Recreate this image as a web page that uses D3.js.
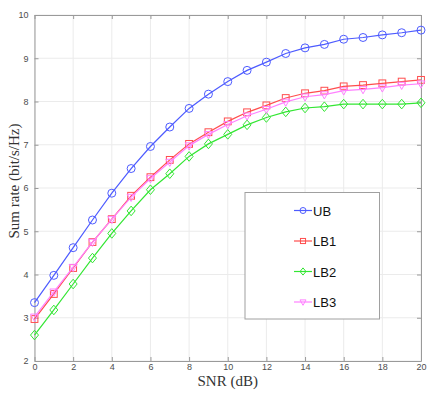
<!DOCTYPE html>
<html lang="en">
<head>
<meta charset="UTF-8">
<title>Sum rate vs SNR</title>
<script src="https://d3js.org/d3.v7.min.js"></script>
<style>
    body { margin: 0; background: #fff; }
    .tick text { font-family: "Liberation Sans", Arial, sans-serif; font-size: 9px; fill: #4d4d4d; }
    .axis-label { font-family: "Liberation Serif", "DejaVu Serif", serif; font-size: 15px; fill: #333; text-anchor: middle; }
    .legend-text { font-family: "Liberation Sans", Arial, sans-serif; font-size: 13px; fill: #111; }
</style>
</head>
<body>
<svg id="chart"></svg>
<script>
    // SNR values (dB)
    const snr = d3.range(0, 21);

    // series values
    const ub  = [3.35, 3.98, 4.62, 5.26, 5.88, 6.45, 6.96, 7.41, 7.84, 8.17, 8.46,
                 8.72, 8.91, 9.11, 9.24, 9.32, 9.44, 9.48, 9.54, 9.59, 9.65];
    const lb1 = [2.97, 3.55, 4.15, 4.75, 5.28, 5.82, 6.25, 6.65, 7.02, 7.29, 7.54,
                 7.75, 7.91, 8.08, 8.19, 8.25, 8.35, 8.38, 8.42, 8.46, 8.50];
    const lb2 = [2.60, 3.18, 3.78, 4.38, 4.95, 5.47, 5.96, 6.33, 6.73, 7.02, 7.24,
                 7.46, 7.63, 7.76, 7.85, 7.88, 7.94, 7.94, 7.94, 7.94, 7.97];
    const lb3 = [3.02, 3.60, 4.17, 4.75, 5.28, 5.79, 6.22, 6.60, 6.98, 7.24, 7.47,
                 7.67, 7.82, 7.99, 8.11, 8.16, 8.25, 8.28, 8.32, 8.38, 8.41];

    const seriesNames = ["UB", "LB1", "LB2", "LB3"];
    const seriesColors = ["#4d5bff", "#ff4d4d", "#33e633", "#ff80ff"];
    const seriesMarkers = ["circle", "square", "diamond", "triangle"];
    const seriesValues = [ub, lb1, lb2, lb3];

    const xTicks = d3.range(0, 21, 2);
    const yTicks = d3.range(2, 11, 1);

    const svgWidth = 436, svgHeight = 395;
    const margin = { top: 15, right: 15, bottom: 34, left: 34.5 };
    const width = svgWidth - margin.left - margin.right;
    const height = svgHeight - margin.top - margin.bottom;

    const svg = d3.select("#chart")
        .attr("width", svgWidth)
        .attr("height", svgHeight);
    const plot = svg.append("g")
        .attr("transform", "translate(" + margin.left + "," + margin.top + ")");

    const x = d3.scaleLinear().domain([0, 20]).range([0, width]);
    const y = d3.scaleLinear().domain([2, 10]).range([height, 0]);

    // grid
    plot.append("g").selectAll("line").data(xTicks).enter().append("line")
        .attr("x1", d => x(d)).attr("x2", d => x(d))
        .attr("y1", 0).attr("y2", height)
        .attr("stroke", "#ebebeb").attr("stroke-width", 1);
    plot.append("g").selectAll("line").data(yTicks).enter().append("line")
        .attr("x1", 0).attr("x2", width)
        .attr("y1", d => y(d)).attr("y2", d => y(d))
        .attr("stroke", "#ebebeb").attr("stroke-width", 1);

    // axes (box style, ticks inward)
    const styleAxis = g => {
        g.select(".domain").attr("stroke", "#9a9a9a");
        g.selectAll(".tick line").attr("stroke", "#9a9a9a");
    };
    plot.append("g").attr("transform", "translate(0," + height + ")")
        .call(d3.axisBottom(x).tickValues(xTicks).tickSizeInner(-4).tickSizeOuter(0).tickPadding(3))
        .call(styleAxis);
    plot.append("g")
        .call(d3.axisLeft(y).tickValues(yTicks).tickSizeInner(-4).tickSizeOuter(0).tickPadding(6))
        .call(styleAxis);
    plot.append("g")
        .call(d3.axisTop(x).tickValues(xTicks).tickSizeInner(-4).tickSizeOuter(0).tickFormat(""))
        .call(styleAxis);
    plot.append("g").attr("transform", "translate(" + width + ",0)")
        .call(d3.axisRight(y).tickValues(yTicks).tickSizeInner(-4).tickSizeOuter(0).tickFormat(""))
        .call(styleAxis);

    // marker drawing
    function drawMarker(sel, type, color, size) {
        if (type === "circle") {
            sel.append("circle").attr("r", size)
                .attr("fill", "none").attr("stroke", color).attr("stroke-width", 1);
        } else if (type === "square") {
            sel.append("rect").attr("x", -size * 0.85).attr("y", -size * 0.85)
                .attr("width", size * 1.7).attr("height", size * 1.7)
                .attr("fill", "none").attr("stroke", color).attr("stroke-width", 1);
        } else if (type === "diamond") {
            sel.append("path")
                .attr("d", "M0," + (-size * 1.2) + "L" + size + ",0L0," + (size * 1.2) + "L" + (-size) + ",0Z")
                .attr("fill", "none").attr("stroke", color).attr("stroke-width", 1);
        } else {
            sel.append("path")
                .attr("d", "M" + (-size) + "," + (-size * 0.7) + "L" + size + "," + (-size * 0.7) + "L0," + (size * 1.1) + "Z")
                .attr("fill", "none").attr("stroke", color).attr("stroke-width", 1);
        }
    }

    const line = d3.line().x(d => x(d[0])).y(d => y(d[1]));

    seriesValues.forEach((vals, i) => {
        const pts = snr.map((s, k) => [s, vals[k]]);
        plot.append("path").datum(pts)
            .attr("fill", "none")
            .attr("stroke", seriesColors[i])
            .attr("stroke-width", 1.2)
            .attr("d", line);
        plot.append("g").selectAll("g").data(pts).enter().append("g")
            .attr("transform", d => "translate(" + x(d[0]) + "," + y(d[1]) + ")")
            .each(function () { drawMarker(d3.select(this), seriesMarkers[i], seriesColors[i], 4); });
    });

    // axis labels
    svg.append("text").attr("class", "axis-label")
        .attr("x", margin.left + width / 2).attr("y", 386)
        .text("SNR (dB)");
    svg.append("text").attr("class", "axis-label")
        .attr("transform", "translate(19,181) rotate(-90)")
        .text("Sum rate (bit/s/Hz)");

    // legend
    const legend = svg.append("g").attr("transform", "translate(245,192.5)");
    legend.append("rect").attr("width", 134.5).attr("height", 126.5)
        .attr("fill", "#fff").attr("stroke", "#a0a0a0").attr("stroke-width", 1);
    seriesNames.forEach((name, i) => {
        const row = legend.append("g").attr("transform", "translate(0," + (18 + i * 30.5) + ")");
        row.append("line").attr("x1", 49).attr("x2", 67).attr("y1", 0).attr("y2", 0)
            .attr("stroke", seriesColors[i]).attr("stroke-width", 1.2);
        const m = row.append("g").attr("transform", "translate(58,0)");
        drawMarker(m, seriesMarkers[i], seriesColors[i], 3);
        row.append("text").attr("class", "legend-text")
            .attr("x", 68).attr("y", 5)
            .text(name);
    });
</script>
</body>
</html>
